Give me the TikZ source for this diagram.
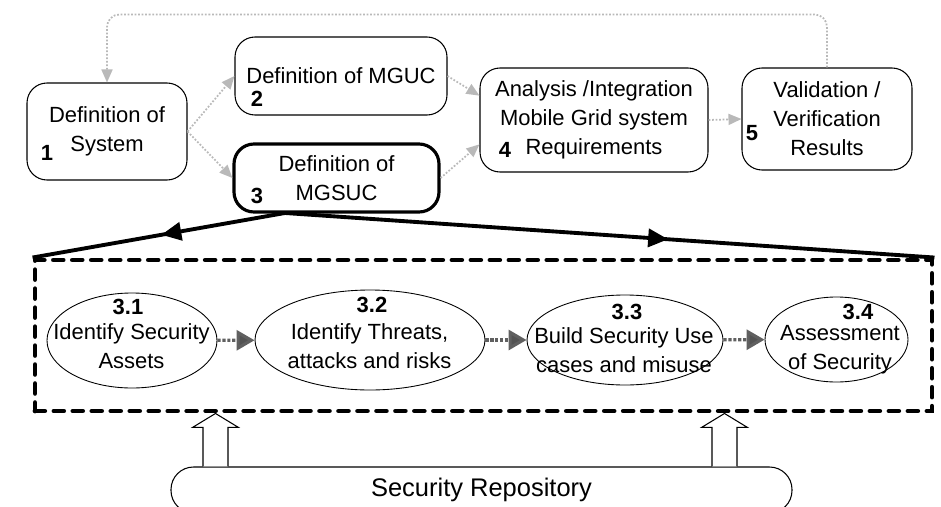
\documentclass[tikz,border=0pt]{standalone}
\usepackage{fontspec}
\setmainfont{Liberation Sans}
\usetikzlibrary{arrows.meta, shapes.geometric, decorations.markings}

\newcommand{\labelsize}{\fontsize{12.5}{16.5}\selectfont}

\tikzset{
    stagebox/.style={draw, rounded corners=0.4cm, line width=0.6pt, align=center, inner sep=0pt},
    keybox/.style={stagebox, line width=1.8pt},
    task/.style={draw, ellipse, line width=0.5pt, inner sep=0pt},
    tasktext/.style={align=center, inner sep=0pt},
    stepnum/.style={font=\labelsize\bfseries},
    flow/.style={draw=gray!55, line width=1pt, densely dotted, -{Triangle[length=0.26cm, width=0.22cm, fill=gray!55]}},
    taskflow/.style={draw=gray!75!black, line width=1.8pt, densely dotted, -{Triangle[length=0.36cm, width=0.4cm, fill=gray!65!black]}},
    spread/.style={line width=2.2pt, postaction={decorate, decoration={markings, mark=at position #1 with {\arrow{Triangle[length=0.4cm, width=0.36cm]}}}}},
    secbox/.style={draw, line width=2.8pt, dash pattern=on 5.5pt off 5.3pt, line cap=round},
    hollow/.style={draw, fill=white, line width=0.6pt},
}

\begin{document}
\begin{tikzpicture}[font=\labelsize]
    % Frame
    \useasboundingbox (0,0) rectangle (18.82,10.12);
    \clip (0,0) rectangle (18.82,10.12);

    % Top row of stages
    \node[stagebox, minimum width=3.2cm, minimum height=1.94cm] (box1) at (2.14,7.49) {Definition of\\System};
    \node[stagebox, minimum width=4.24cm, minimum height=1.56cm] (box2) at (6.82,8.60) {Definition of MGUC};
    \node[keybox, minimum width=4.1cm, minimum height=1.36cm] (box3) at (6.73,6.56) {Definition of\\MGSUC};
    \node[stagebox, minimum width=4.56cm, minimum height=2.08cm] (box4) at (11.88,7.72) {Analysis /Integration\\Mobile Grid system\\Requirements};
    \node[stagebox, minimum width=3.4cm, minimum height=2.04cm] (box5) at (16.54,7.74) {Validation /\\Verification\\Results};

    % Stage numbers
    \node[stepnum] (num1) at (0.94,7.06) {1};
    \node[stepnum] (num2) at (5.14,8.14) {2};
    \node[stepnum] (num3) at (5.14,6.20) {3};
    \node[stepnum] (num4) at (10.10,7.12) {4};
    \node[stepnum] (num5) at (15.04,7.46) {5};

    % Flow between stages
    \draw[flow] (box1.east) -- (box2.west);
    \draw[flow] (box1.east) -- (box3.west);
    \draw[flow] (box2.east) -- (box4.168);
    \draw[flow] (box3.east) -- (box4.192);
    \draw[flow] (box4.east) -- (box5.west);
    \draw[flow, rounded corners=0.25cm] (box5.north) -- ++(0,1.06) -| (box1.north);

    % Security sub-process
    \node[secbox, minimum width=17.94cm, minimum height=3.02cm] (sec) at (9.67,3.41) {};
    \coordinate (apex) at (5.70,5.86);
    \draw[spread=0.49] (apex) -- (sec.north west);
    \draw[spread=0.59] (apex) -- (sec.north east);

    \node[task, minimum width=3.40cm, minimum height=1.90cm] (t1) at (2.64,3.31) {};
    \node[task, minimum width=4.60cm, minimum height=2.00cm] (t2) at (7.40,3.32) {};
    \node[task, minimum width=3.92cm, minimum height=1.80cm] (t3) at (12.50,3.32) {};
    \node[task, minimum width=2.86cm, minimum height=1.70cm] (t4) at (16.73,3.33) {};

    \node[stepnum] (t1num) at (2.56,3.98) {3.1};
    \node[stepnum] (t2num) at (7.44,4.02) {3.2};
    \node[stepnum] (t3num) at (12.54,3.88) {3.3};
    \node[stepnum] (t4num) at (17.16,3.88) {3.4};

    \node[tasktext] (t1text) at (2.63,3.19) {Identify Security\\Assets};
    \node[tasktext] (t2text) at (7.39,3.20) {Identify Threats,\\attacks and risks};
    \node[tasktext] (t3text) at (12.48,3.12) {Build Security Use\\cases and misuse};
    \node[tasktext] (t4text) at (16.80,3.12) {Assessment\\of Security};

    \draw[taskflow] (t1) -- (t2);
    \draw[taskflow] (t2) -- (t3);
    \draw[taskflow] (t3) -- (t4);

    % Repository feeding the sub-process
    \node[draw, rounded corners=0.45cm, line width=0.6pt, minimum width=12.42cm, minimum height=0.92cm, font=\fontsize{14.5}{17}\selectfont] (repo) at (9.63,0.32) {Security Repository};
    \foreach \ax in {4.31,14.49} {
        \coordinate (ab) at (repo.north -| \ax,0);
        \coordinate (at) at (sec.south -| \ax,0);
        \draw[hollow] ([xshift=-0.25cm]ab) -- ([xshift=-0.25cm, yshift=-0.28cm]at) -- ([xshift=-0.46cm, yshift=-0.28cm]at)
            -- (at) -- ([xshift=0.46cm, yshift=-0.28cm]at) -- ([xshift=0.25cm, yshift=-0.28cm]at) -- ([xshift=0.25cm]ab);
    }
\end{tikzpicture}
\end{document}
